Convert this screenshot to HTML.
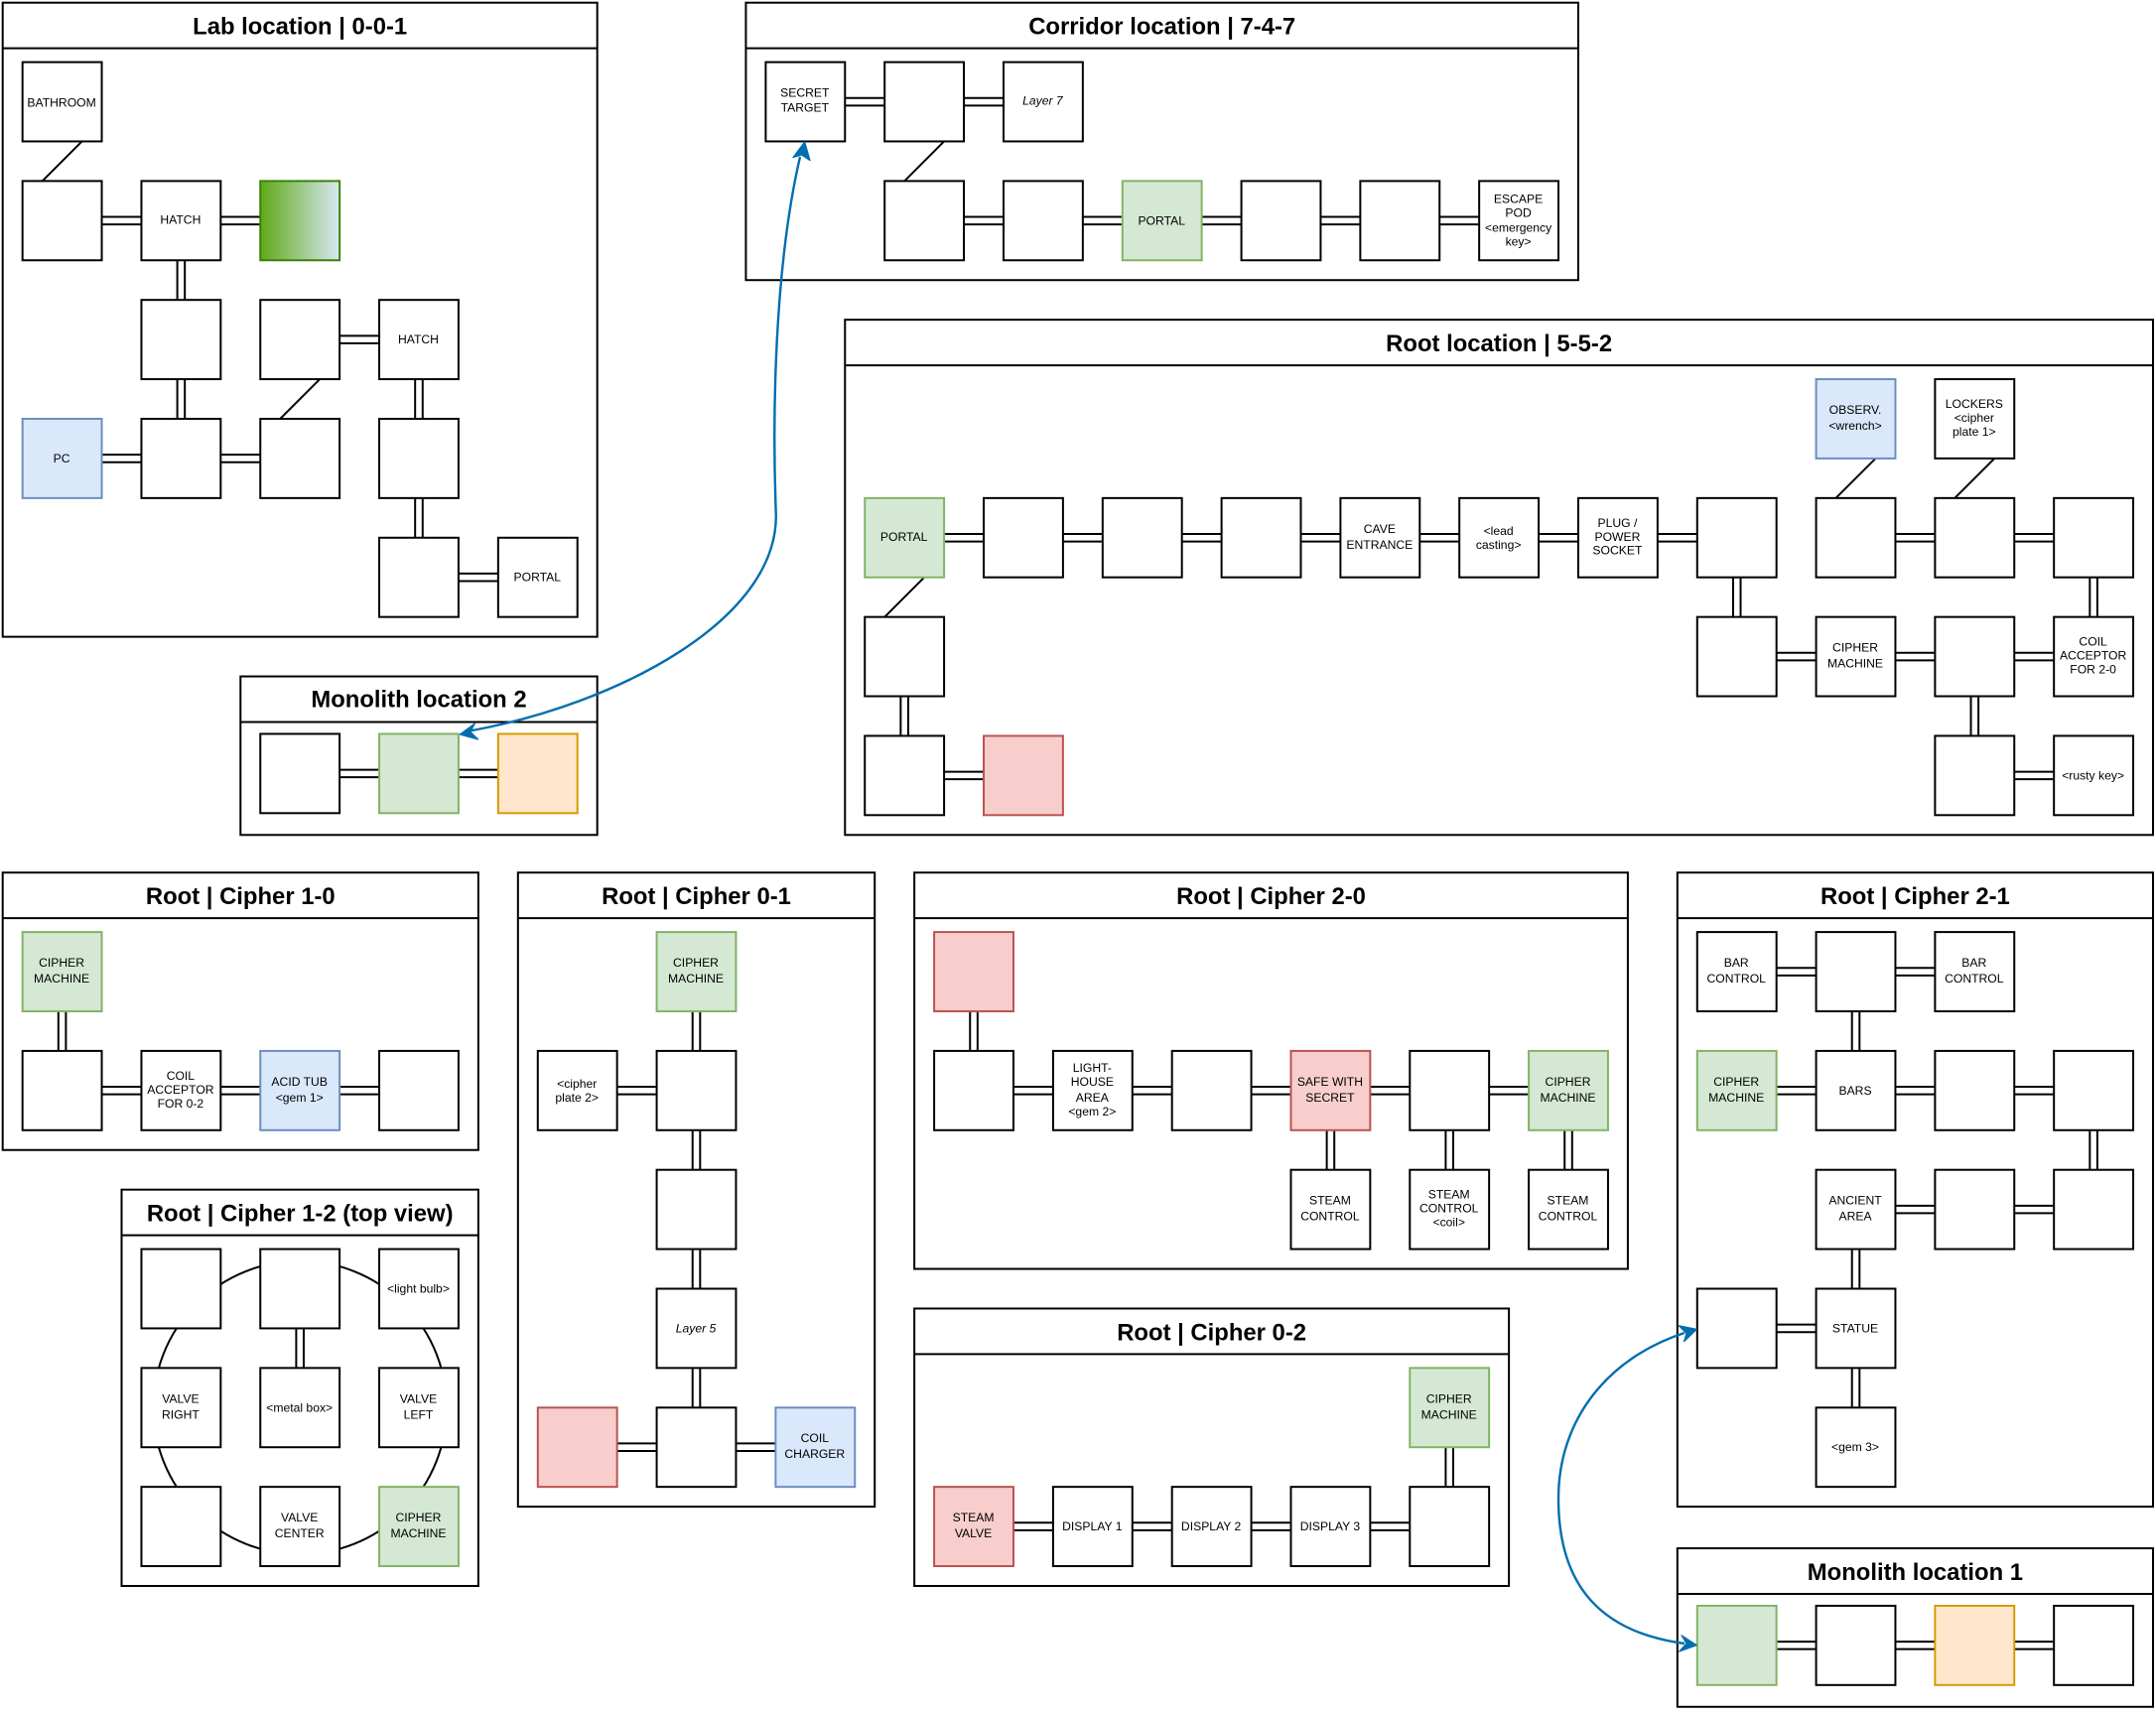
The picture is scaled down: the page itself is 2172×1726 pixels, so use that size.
<!DOCTYPE html>
<html><head><meta charset="utf-8"><title>Map</title>
<style>
html,body{margin:0;padding:0;background:#fff}
svg{display:block}
text{font-family:"Liberation Sans",Arial,sans-serif;font-size:12.2px;text-anchor:middle;fill:#000;transform:translateY(-1px)}
text.t{font-size:23.9px;font-weight:700;transform:none}
text.i{font-style:italic}
rect{fill:#fff;stroke:#000;stroke-width:2}
rect.n{width:80px;height:80px}
rect.g{fill:#d5e8d4;stroke:#82b366}
rect.b{fill:#dae8fc;stroke:#6c8ebf}
rect.r{fill:#f8cecc;stroke:#b85450}
rect.o{fill:#ffe6cc;stroke:#d79b00}
line,path.d,circle{fill:none;stroke:#000;stroke-width:2}
.lk{fill:none;stroke:#000;stroke-width:9.6}
.lw{fill:none;stroke:#fff;stroke-width:5.6}
</style></head><body>
<svg xmlns="http://www.w3.org/2000/svg" width="2172" height="1726" viewBox="0 0 2172 1726">
<defs><linearGradient id="gr" x1="0" x2="1" y1="0" y2="0"><stop offset="0" stop-color="#60a917"/><stop offset="1" stop-color="#d8e8f4"/></linearGradient></defs>
<g transform="translate(2.7,2.7) scale(.9983)">

<!-- Lab -->
<g transform="translate(0,0)"><rect width="600" height="640"/><line x1="0" x2="600" y1="46" y2="46"/><text class="t" x="300" y="32">Lab location | 0-0-1</text>
<g transform="translate(20,60)">
<path class="lk" d="M80 160h40M200 160h40M160 200v40M160 320v40M80 400h40M200 400h40M320 280h40M400 320v40M400 440v40M440 520h40"/>
<path class="lw" d="M80 160h40M200 160h40M160 200v40M160 320v40M80 400h40M200 400h40M320 280h40M400 320v40M400 440v40M440 520h40"/>
<path class="d" d="M60 80L20 120M300 320L260 360"/>
<rect class="n" x="0" y="0"/><text x="39.5" y="46">BATHROOM</text>
<rect class="n" x="0" y="120"/>
<rect class="n" x="120" y="120"/><text x="159.5" y="164">HATCH</text>
<rect class="n" x="240" y="120" style="fill:url(#gr);stroke:#3a8208"/>
<rect class="n" x="120" y="240"/>
<rect class="n" x="240" y="240"/>
<rect class="n" x="360" y="240"/><text x="399.5" y="285">HATCH</text>
<rect class="n b" x="0" y="360"/><text x="39.5" y="405">PC</text>
<rect class="n" x="120" y="360"/>
<rect class="n" x="240" y="360"/>
<rect class="n" x="360" y="360"/>
<rect class="n" x="360" y="480"/>
<rect class="n" x="480" y="480"/><text x="519.5" y="525">PORTAL</text>
</g></g>

<!-- Corridor -->
<g transform="translate(750,0)"><rect width="840" height="280"/><line x1="0" x2="840" y1="46" y2="46"/><text class="t" x="420" y="32">Corridor location | 7-4-7</text>
<g transform="translate(20,60)">
<path class="lk" d="M80 40h40M200 40h40M200 160h40M320 160h40M440 160h40M560 160h40M680 160h40"/>
<path class="lw" d="M80 40h40M200 40h40M200 160h40M320 160h40M440 160h40M560 160h40M680 160h40"/>
<path class="d" d="M180 80L140 120"/>
<rect class="n" x="0" y="0"/><text x="39.5" y="36">SECRET</text><text x="39.5" y="51">TARGET</text>
<rect class="n" x="120" y="0"/>
<rect class="n" x="240" y="0"/><text class="i" x="279.5" y="44">Layer 7</text>
<rect class="n" x="120" y="120"/>
<rect class="n" x="240" y="120"/>
<rect class="n g" x="360" y="120"/><text x="399.5" y="165">PORTAL</text>
<rect class="n" x="480" y="120"/>
<rect class="n" x="600" y="120"/>
<rect class="n" x="720" y="120"/><text x="759.5" y="143">ESCAPE</text><text x="759.5" y="157">POD</text><text x="759.5" y="172">&lt;emergency</text><text x="759.5" y="186">key&gt;</text>
</g></g>

<!-- Root location -->
<g transform="translate(850,320)"><rect width="1320" height="520"/><line x1="0" x2="1320" y1="46" y2="46"/><text class="t" x="660" y="32">Root location | 5-5-2</text>
<g transform="translate(20,60)">
<path class="lk" d="M80 160h40M200 160h40M320 160h40M440 160h40M560 160h40M680 160h40M800 160h40M1040 160h40M1160 160h40M880 200v40M1240 200v40M920 280h40M1040 280h40M1160 280h40M1120 320v40M1160 400h40M40 320v40M80 400h40"/>
<path class="lw" d="M80 160h40M200 160h40M320 160h40M440 160h40M560 160h40M680 160h40M800 160h40M1040 160h40M1160 160h40M880 200v40M1240 200v40M920 280h40M1040 280h40M1160 280h40M1120 320v40M1160 400h40M40 320v40M80 400h40"/>
<path class="d" d="M1020 80L980 120M1140 80L1100 120M60 200L20 240"/>
<rect class="n b" x="960" y="0"/><text x="999.5" y="36">OBSERV.</text><text x="999.5" y="52">&lt;wrench&gt;</text>
<rect class="n" x="1080" y="0"/><text x="1119.5" y="30">LOCKERS</text><text x="1119.5" y="44">&lt;cipher</text><text x="1119.5" y="58">plate 1&gt;</text>
<rect class="n g" x="0" y="120"/><text x="39.5" y="164">PORTAL</text>
<rect class="n" x="120" y="120"/>
<rect class="n" x="240" y="120"/>
<rect class="n" x="360" y="120"/>
<rect class="n" x="480" y="120"/><text x="519.5" y="156">CAVE</text><text x="519.5" y="172">ENTRANCE</text>
<rect class="n" x="600" y="120"/><text x="639.5" y="158">&lt;lead</text><text x="639.5" y="172">casting&gt;</text>
<rect class="n" x="720" y="120"/><text x="759.5" y="150">PLUG /</text><text x="759.5" y="164">POWER</text><text x="759.5" y="178">SOCKET</text>
<rect class="n" x="840" y="120"/>
<rect class="n" x="960" y="120"/>
<rect class="n" x="1080" y="120"/>
<rect class="n" x="1200" y="120"/>
<rect class="n" x="0" y="240"/>
<rect class="n" x="840" y="240"/>
<rect class="n" x="960" y="240"/><text x="999.5" y="276">CIPHER</text><text x="999.5" y="292">MACHINE</text>
<rect class="n" x="1080" y="240"/>
<rect class="n" x="1200" y="240"/><text x="1239.5" y="270">COIL</text><text x="1239.5" y="284">ACCEPTOR</text><text x="1239.5" y="298">FOR 2-0</text>
<rect class="n" x="0" y="360"/>
<rect class="n r" x="120" y="360"/>
<rect class="n" x="1080" y="360"/>
<rect class="n" x="1200" y="360"/><text x="1239.5" y="405">&lt;rusty key&gt;</text>
</g></g>

<!-- Monolith 2 -->
<g transform="translate(240,680)"><rect width="360" height="160"/><line x1="0" x2="360" y1="46" y2="46"/><text class="t" x="180" y="31">Monolith location 2</text>
<g transform="translate(20,58)">
<path class="lk" d="M80 40h40M200 40h40"/><path class="lw" d="M80 40h40M200 40h40"/>
<rect class="n" x="0" y="0"/><rect class="n g" x="120" y="0"/><rect class="n o" x="240" y="0"/>
</g></g>

<!-- Cipher 1-0 -->
<g transform="translate(0,878)"><rect width="480" height="280"/><line x1="0" x2="480" y1="46" y2="46"/><text class="t" x="240" y="32">Root | Cipher 1-0</text>
<g transform="translate(20,60)">
<path class="lk" d="M40 80v40M80 160h40M200 160h40M320 160h40"/><path class="lw" d="M40 80v40M80 160h40M200 160h40M320 160h40"/>
<rect class="n g" x="0" y="0"/><text x="39.5" y="36">CIPHER</text><text x="39.5" y="52">MACHINE</text>
<rect class="n" x="0" y="120"/>
<rect class="n" x="120" y="120"/><text x="159.5" y="150">COIL</text><text x="159.5" y="164">ACCEPTOR</text><text x="159.5" y="178">FOR 0-2</text>
<rect class="n b" x="240" y="120"/><text x="279.5" y="156">ACID TUB</text><text x="279.5" y="172">&lt;gem 1&gt;</text>
<rect class="n" x="360" y="120"/>
</g></g>

<!-- Cipher 1-2 -->
<g transform="translate(120,1198)"><rect width="360" height="400"/><line x1="0" x2="360" y1="46" y2="46"/><text class="t" x="180" y="32">Root | Cipher 1-2 (top view)</text>
<g transform="translate(20,60)">
<circle cx="160" cy="160" r="148"/>
<path class="lk" d="M160 80v40"/><path class="lw" d="M160 80v40"/>
<rect class="n" x="0" y="0"/>
<rect class="n" x="120" y="0"/>
<rect class="n" x="240" y="0"/><text x="279.5" y="45">&lt;light bulb&gt;</text>
<rect class="n" x="0" y="120"/><text x="39.5" y="156">VALVE</text><text x="39.5" y="172">RIGHT</text>
<rect class="n" x="120" y="120"/><text x="159.5" y="165">&lt;metal box&gt;</text>
<rect class="n" x="240" y="120"/><text x="279.5" y="156">VALVE</text><text x="279.5" y="172">LEFT</text>
<rect class="n" x="0" y="240"/>
<rect class="n" x="120" y="240"/><text x="159.5" y="276">VALVE</text><text x="159.5" y="292">CENTER</text>
<rect class="n g" x="240" y="240"/><text x="279.5" y="276">CIPHER</text><text x="279.5" y="292">MACHINE</text>
</g></g>

<!-- Cipher 0-1 -->
<g transform="translate(520,878)"><rect width="360" height="640"/><line x1="0" x2="360" y1="46" y2="46"/><text class="t" x="180" y="32">Root | Cipher 0-1</text>
<g transform="translate(20,60)">
<path class="lk" d="M160 80v40M80 160h40M160 200v40M160 320v40M160 440v40M80 520h40M200 520h40"/><path class="lw" d="M160 80v40M80 160h40M160 200v40M160 320v40M160 440v40M80 520h40M200 520h40"/>
<rect class="n g" x="120" y="0"/><text x="159.5" y="36">CIPHER</text><text x="159.5" y="52">MACHINE</text>
<rect class="n" x="0" y="120"/><text x="39.5" y="158">&lt;cipher</text><text x="39.5" y="172">plate 2&gt;</text>
<rect class="n" x="120" y="120"/>
<rect class="n" x="120" y="240"/>
<rect class="n" x="120" y="360"/><text class="i" x="159.5" y="405">Layer 5</text>
<rect class="n r" x="0" y="480"/>
<rect class="n" x="120" y="480"/>
<rect class="n b" x="240" y="480"/><text x="279.5" y="516">COIL</text><text x="279.5" y="532">CHARGER</text>
</g></g>

<!-- Cipher 2-0 -->
<g transform="translate(920,878)"><rect width="720" height="400"/><line x1="0" x2="720" y1="46" y2="46"/><text class="t" x="360" y="32">Root | Cipher 2-0</text>
<g transform="translate(20,60)">
<path class="lk" d="M40 80v40M80 160h40M200 160h40M320 160h40M440 160h40M560 160h40M400 200v40M520 200v40M640 200v40"/><path class="lw" d="M40 80v40M80 160h40M200 160h40M320 160h40M440 160h40M560 160h40M400 200v40M520 200v40M640 200v40"/>
<rect class="n r" x="0" y="0"/>
<rect class="n" x="0" y="120"/>
<rect class="n" x="120" y="120"/><text x="159.5" y="142">LIGHT-</text><text x="159.5" y="156">HOUSE</text><text x="159.5" y="172">AREA</text><text x="159.5" y="186">&lt;gem 2&gt;</text>
<rect class="n" x="240" y="120"/>
<rect class="n r" x="360" y="120"/><text x="399.5" y="156">SAFE WITH</text><text x="399.5" y="172">SECRET</text>
<rect class="n" x="480" y="120"/>
<rect class="n g" x="600" y="120"/><text x="639.5" y="156">CIPHER</text><text x="639.5" y="172">MACHINE</text>
<rect class="n" x="360" y="240"/><text x="399.5" y="276">STEAM</text><text x="399.5" y="292">CONTROL</text>
<rect class="n" x="480" y="240"/><text x="519.5" y="270">STEAM</text><text x="519.5" y="284">CONTROL</text><text x="519.5" y="298">&lt;coil&gt;</text>
<rect class="n" x="600" y="240"/><text x="639.5" y="276">STEAM</text><text x="639.5" y="292">CONTROL</text>
</g></g>

<!-- Cipher 0-2 -->
<g transform="translate(920,1318)"><rect width="600" height="280"/><line x1="0" x2="600" y1="46" y2="46"/><text class="t" x="300" y="32">Root | Cipher 0-2</text>
<g transform="translate(20,60)">
<path class="lk" d="M520 80v40M80 160h40M200 160h40M320 160h40M440 160h40"/><path class="lw" d="M520 80v40M80 160h40M200 160h40M320 160h40M440 160h40"/>
<rect class="n g" x="480" y="0"/><text x="519.5" y="36">CIPHER</text><text x="519.5" y="52">MACHINE</text>
<rect class="n r" x="0" y="120"/><text x="39.5" y="156">STEAM</text><text x="39.5" y="172">VALVE</text>
<rect class="n" x="120" y="120"/><text x="159.5" y="165">DISPLAY 1</text>
<rect class="n" x="240" y="120"/><text x="279.5" y="165">DISPLAY 2</text>
<rect class="n" x="360" y="120"/><text x="399.5" y="165">DISPLAY 3</text>
<rect class="n" x="480" y="120"/>
</g></g>

<!-- Cipher 2-1 -->
<g transform="translate(1690,878)"><rect width="480" height="640"/><line x1="0" x2="480" y1="46" y2="46"/><text class="t" x="240" y="32">Root | Cipher 2-1</text>
<g transform="translate(20,60)">
<path class="lk" d="M80 40h40M200 40h40M160 80v40M80 160h40M200 160h40M320 160h40M400 200v40M200 280h40M320 280h40M160 320v40M80 400h40M160 440v40"/><path class="lw" d="M80 40h40M200 40h40M160 80v40M80 160h40M200 160h40M320 160h40M400 200v40M200 280h40M320 280h40M160 320v40M80 400h40M160 440v40"/>
<rect class="n" x="0" y="0"/><text x="39.5" y="36">BAR</text><text x="39.5" y="52">CONTROL</text>
<rect class="n" x="120" y="0"/>
<rect class="n" x="240" y="0"/><text x="279.5" y="36">BAR</text><text x="279.5" y="52">CONTROL</text>
<rect class="n g" x="0" y="120"/><text x="39.5" y="156">CIPHER</text><text x="39.5" y="172">MACHINE</text>
<rect class="n" x="120" y="120"/><text x="159.5" y="165">BARS</text>
<rect class="n" x="240" y="120"/>
<rect class="n" x="360" y="120"/>
<rect class="n" x="120" y="240"/><text x="159.5" y="276">ANCIENT</text><text x="159.5" y="292">AREA</text>
<rect class="n" x="240" y="240"/>
<rect class="n" x="360" y="240"/>
<rect class="n" x="0" y="360"/>
<rect class="n" x="120" y="360"/><text x="159.5" y="405">STATUE</text>
<rect class="n" x="120" y="480"/><text x="159.5" y="525">&lt;gem 3&gt;</text>
</g></g>

<!-- Monolith 1 -->
<g transform="translate(1690,1560)"><rect width="480" height="160"/><line x1="0" x2="480" y1="46" y2="46"/><text class="t" x="240" y="32">Monolith location 1</text>
<g transform="translate(20,58)">
<path class="lk" d="M80 40h40M200 40h40M320 40h40"/><path class="lw" d="M80 40h40M200 40h40M320 40h40"/>
<rect class="n g" x="0" y="0"/><rect class="n" x="120" y="0"/><rect class="n o" x="240" y="0"/><rect class="n" x="360" y="0"/>
</g></g>
</g>

<!-- Blue curved arrows -->
<g fill="none" stroke="#006eaf" stroke-width="2.4">
<path d="M473 736.5C620 710 785 625 781.7 517C778 420 780 270 806 158"/>
<path d="M1697 1343C1620 1368 1570 1430 1570 1510C1570 1600 1615 1645 1697 1656"/>
</g>
<g fill="#006eaf" stroke="#006eaf" stroke-width="1.2" stroke-linejoin="round">
<path d="M463.3 740L478.3 729L474 737.5L481.7 745Z"/>
<path d="M810.7 143L799 158.5L807.5 156L816 161.6Z"/>
<path d="M1709.4 1339.3L1691.2 1335.7L1699 1343.5L1696.5 1351.7Z"/>
<path d="M1709.4 1657.7L1694 1647.7L1699 1656L1691.6 1664Z"/>
</g>
</svg>
</body></html>
